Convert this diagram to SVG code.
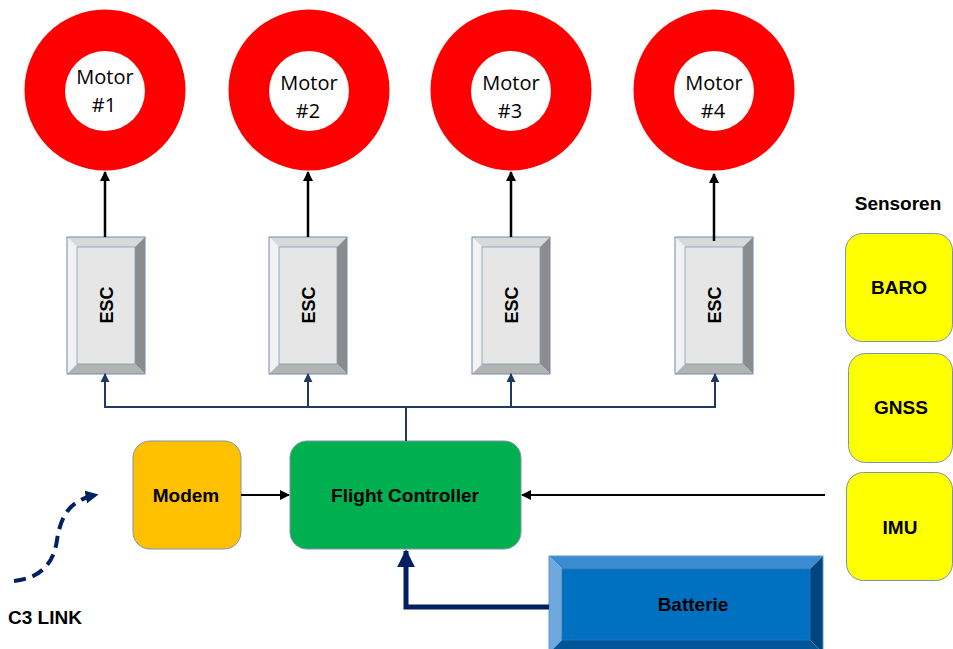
<svg xmlns="http://www.w3.org/2000/svg" width="953" height="649" viewBox="0 0 953 649">
  <defs>
    <style>
      .motor-ring { fill: #FF0000; }
      .motor-hole { fill: #FFFFFF; }
      .motor-txt { font-family: "Open Sans", "Liberation Sans", sans-serif; font-size: 20px; fill: #000; text-anchor: middle; }
      .lbl { font-family: "Liberation Sans", Arial, sans-serif; font-weight: bold; font-size: 19px; fill: #000; text-anchor: middle; }
      .esc-txt { font-family: "Liberation Sans", Arial, sans-serif; font-weight: bold; font-size: 18px; fill: #000; text-anchor: middle; }
      .box { stroke: #7F93A8; stroke-width: 1; }
      .blk { stroke: #000; stroke-width: 2.5; fill: none; }
      .bus { stroke: #1F3864; stroke-width: 2; fill: none; }
      .bat { stroke: #002060; stroke-width: 5; fill: none; }
      .link { stroke: #002060; stroke-width: 4; fill: none; stroke-dasharray: 12 7; }
    </style>
    <marker id="ah-black" viewBox="0 0 10 10" refX="9" refY="5" markerWidth="10" markerHeight="10" markerUnits="userSpaceOnUse" orient="auto">
      <path d="M0,0 L10,5 L0,10 z" fill="#000"/>
    </marker>
    <marker id="ah-navy" viewBox="0 0 10 10" refX="9" refY="5" markerWidth="9" markerHeight="9" markerUnits="userSpaceOnUse" orient="auto">
      <path d="M0,0 L10,5 L0,10 z" fill="#1F3864"/>
    </marker>
    <marker id="ah-bat" viewBox="0 0 10 10" refX="9" refY="5" markerWidth="18" markerHeight="18" markerUnits="userSpaceOnUse" orient="auto">
      <path d="M0,0 L10,5 L0,10 z" fill="#002060"/>
    </marker>
    <marker id="ah-link" viewBox="0 0 10 10" refX="8" refY="5" markerWidth="13" markerHeight="13" markerUnits="userSpaceOnUse" orient="auto">
      <path d="M0,0 L10,5 L0,10 z" fill="#002060"/>
    </marker>
    <g id="esc-shape">
      <polygon points="0,0 78,0 68,10 10,10" fill="#D9D9D9"/>
      <polygon points="0,0 10,10 10,127 0,137" fill="#F2F2F2"/>
      <polygon points="78,0 78,137 68,127 68,10" fill="#8C8C8C"/>
      <polygon points="0,137 10,127 68,127 78,137" fill="#B3B3B3"/>
      <rect x="10" y="10" width="58" height="117" fill="#E6E6E6" stroke="#7F9BB8" stroke-width="0.8"/>
      <rect x="0" y="0" width="78" height="137" fill="none" stroke="#6F8DB0" stroke-width="1"/>
    </g>
  </defs>

  <rect x="0" y="0" width="953" height="649" fill="#FFFFFF"/>

  <!-- Motors -->
  <g id="motor1">
    <circle class="motor-ring" cx="105" cy="90" r="80.5"/>
    <circle class="motor-hole" cx="105" cy="91" r="40"/>
    <text class="motor-txt" x="105" y="84">Motor</text>
    <text class="motor-txt" x="104" y="112">#1</text>
  </g>
  <g id="motor2">
    <circle class="motor-ring" cx="309" cy="90" r="80.5"/>
    <circle class="motor-hole" cx="309" cy="91" r="40"/>
    <text class="motor-txt" x="309" y="90">Motor</text>
    <text class="motor-txt" x="308" y="118">#2</text>
  </g>
  <g id="motor3">
    <circle class="motor-ring" cx="511" cy="90" r="80.5"/>
    <circle class="motor-hole" cx="511" cy="91" r="40"/>
    <text class="motor-txt" x="511" y="90">Motor</text>
    <text class="motor-txt" x="510" y="118">#3</text>
  </g>
  <g id="motor4">
    <circle class="motor-ring" cx="714" cy="90" r="80.5"/>
    <circle class="motor-hole" cx="714" cy="91" r="40"/>
    <text class="motor-txt" x="714" y="90">Motor</text>
    <text class="motor-txt" x="713" y="118">#4</text>
  </g>

  <!-- ESCs -->
  <g id="esc1">
    <use href="#esc-shape" x="67" y="237"/>
    <text class="esc-txt" transform="translate(113,305) rotate(-90)">ESC</text>
  </g>
  <g id="esc2">
    <use href="#esc-shape" x="269" y="237"/>
    <text class="esc-txt" transform="translate(315,305) rotate(-90)">ESC</text>
  </g>
  <g id="esc3">
    <use href="#esc-shape" x="472" y="237"/>
    <text class="esc-txt" transform="translate(518,305) rotate(-90)">ESC</text>
  </g>
  <g id="esc4">
    <use href="#esc-shape" x="675" y="237"/>
    <text class="esc-txt" transform="translate(721,305) rotate(-90)">ESC</text>
  </g>

  <!-- Flight Controller -->
  <g id="flight-controller">
    <rect class="box" x="290" y="441" width="231" height="108" rx="17" fill="#00B050"/>
    <text class="lbl" x="405" y="502">Flight Controller</text>
  </g>

  <!-- Modem -->
  <g id="modem">
    <rect class="box" x="133" y="441" width="108" height="108" rx="17" fill="#FFC000"/>
    <text class="lbl" x="186" y="502">Modem</text>
  </g>

  <!-- Sensors -->
  <g id="sensoren-title">
    <text class="lbl" x="898" y="210">Sensoren</text>
  </g>
  <g id="baro">
    <rect class="box" x="845.5" y="233.5" width="107" height="108" rx="17" fill="#FFFF00"/>
    <text class="lbl" x="899" y="294">BARO</text>
  </g>
  <g id="gnss">
    <rect class="box" x="848.5" y="353.5" width="104" height="109" rx="17" fill="#FFFF00"/>
    <text class="lbl" x="901" y="414">GNSS</text>
  </g>
  <g id="imu">
    <rect class="box" x="846.5" y="472.5" width="106" height="108" rx="17" fill="#FFFF00"/>
    <text class="lbl" x="900" y="534">IMU</text>
  </g>

  <!-- Battery -->
  <g id="batterie">
    <polygon points="549,556 823,556 810,569 562,569" fill="#3A8BD0"/>
    <polygon points="549,556 562,569 562,640 549,653" fill="#6FA8DC"/>
    <polygon points="823,556 823,653 810,640 810,569" fill="#00457E"/>
    <polygon points="549,653 562,640 810,640 823,653" fill="#005699"/>
    <rect x="562" y="569" width="248" height="71" fill="#0070C0" stroke="#2E75B6" stroke-width="0.8"/>
    <rect x="549" y="556" width="274" height="97" fill="none" stroke="#5B9BD5" stroke-width="1"/>
    <text class="lbl" x="693" y="611">Batterie</text>
  </g>

  <!-- C3 Link label -->
  <g id="c3-link">
    <text class="lbl" x="45" y="624" font-size="18">C3 LINK</text>
  </g>

  <!-- Connectors -->
  <g id="connectors">
    <line class="blk" x1="105" y1="237" x2="105" y2="172" marker-end="url(#ah-black)"/>
    <line class="blk" x1="308" y1="237" x2="308" y2="172" marker-end="url(#ah-black)"/>
    <line class="blk" x1="511" y1="237" x2="511" y2="172" marker-end="url(#ah-black)"/>
    <line class="blk" x1="714" y1="241" x2="714" y2="174" marker-end="url(#ah-black)"/>

    <line class="bus" x1="406" y1="441" x2="406" y2="407"/>
    <line class="bus" x1="104" y1="407" x2="716" y2="407"/>
    <line class="bus" x1="105" y1="407" x2="105" y2="374" marker-end="url(#ah-navy)"/>
    <line class="bus" x1="308" y1="407" x2="308" y2="374" marker-end="url(#ah-navy)"/>
    <line class="bus" x1="511" y1="407" x2="511" y2="374" marker-end="url(#ah-navy)"/>
    <line class="bus" x1="715" y1="407" x2="715" y2="374" marker-end="url(#ah-navy)"/>

    <line stroke="#000" stroke-width="2" x1="241" y1="495" x2="289" y2="495" marker-end="url(#ah-black)"/>
    <line stroke="#000" stroke-width="2" x1="825" y1="495" x2="522" y2="495" marker-end="url(#ah-black)"/>

    <polyline class="bat" points="549,607 406,607 406,551" marker-end="url(#ah-bat)"/>

    <path class="link" d="M14,581 C42,578 54,562 57,540 C61,515 70,500 96,495" marker-end="url(#ah-link)"/>
  </g>
</svg>
